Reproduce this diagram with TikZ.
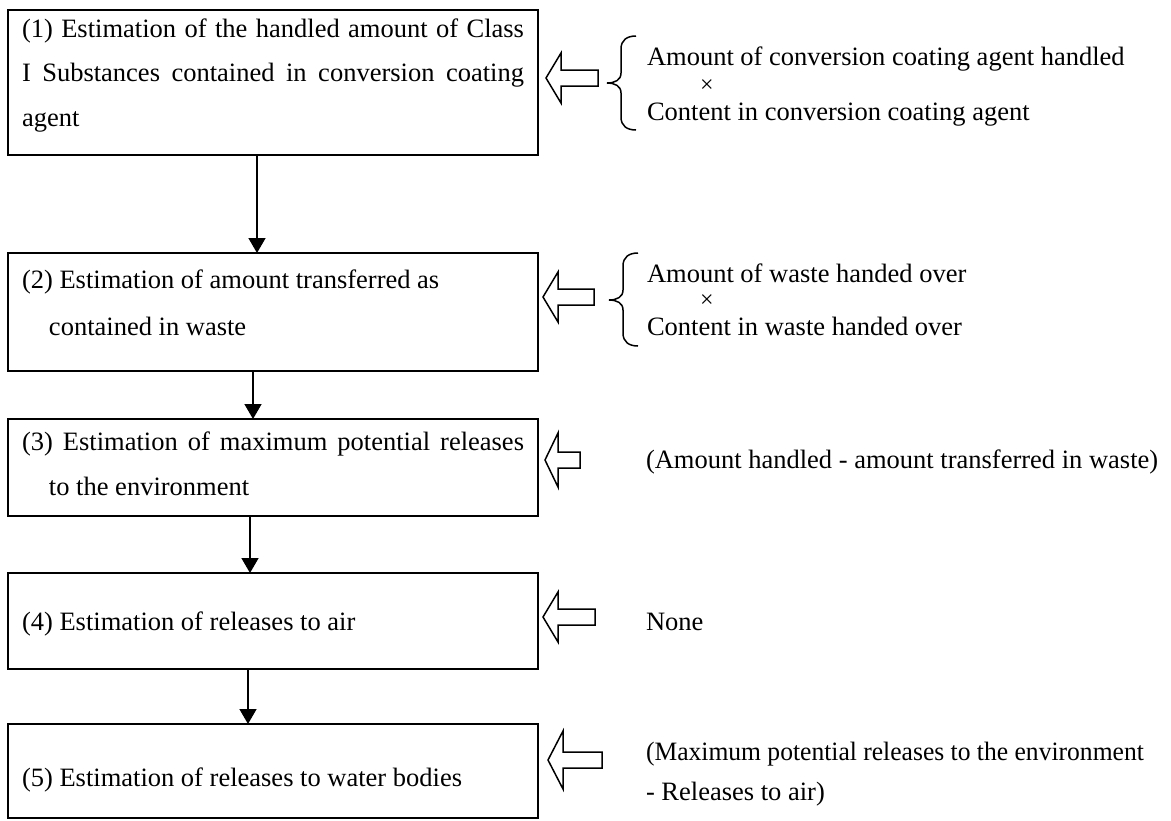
\documentclass[tikz,border=0pt]{standalone}
\usepackage{fontspec}
\setmainfont{Liberation Serif}
\usepackage{graphicx}
\usetikzlibrary{arrows.meta}

\tikzset{
  every node/.style={inner sep=0pt, outer sep=0pt},
  txt/.style={font=\fontsize{26.5pt}{46pt}\selectfont},
  stepbox/.style={txt, draw, line width=2pt, rectangle, anchor=north west,
    minimum width=530pt, align=left},
  flow/.style={line width=1.5pt, -{Triangle[length=15pt,width=17pt]}},
  hollow/.style={draw, line width=1.5pt, line join=miter},
  bracepen/.style={line width=1.5pt},
  side/.style={txt, anchor=base west},
  times/.style={font=\fontsize{24pt}{24pt}\selectfont},
  pics/inarrow/.style args={#1/#2/#3/#4}{code={
    \draw[hollow] (0,0) -- (#1,-#2) -- (#1,-#3) -- (#4,-#3) -- (#4,#3)
      -- (#1,#3) -- (#1,#2) -- cycle;
  }},
  pics/curly/.style args={#1/#2}{code={
    \draw[bracepen] (29,-#1) .. controls (20,-#1) and (14,-#1+4) .. (14,-#1+13)
      -- (14,-10) .. controls (14,-3) and (8,0) .. (0,0)
      .. controls (8,0) and (14,3) .. (14,10)
      -- (14,#2-13) .. controls (14,#2-4) and (20,#2) .. (29,#2);
  }},
}
% box text: height of the box, height of the first line, line pitch
\newcommand{\steptext}[4]{\parbox[c][#1][t]{502pt}{\setlength{\baselineskip}{#3}%
  \rule{0pt}{#2}#4}}

\begin{document}
\begin{tikzpicture}[x=1pt, y=-1pt]
\path[fill=white] (0,0) rectangle (1171,820);
\useasboundingbox (0,0) rectangle (1171,820);

% the five estimation steps
\node[stepbox] (b1) at (8,10) {\steptext{145pt}{27pt}{44.5pt}{%
  \makebox[\linewidth][s]{(1) Estimation of the handled amount of Class}\\
  \makebox[\linewidth][s]{I Substances contained in conversion coating}\\
  agent}};
\node[stepbox] (b2) at (8,253) {\steptext{118pt}{35pt}{47.5pt}{%
  (2) Estimation of amount transferred as\\
  \hspace*{27pt}contained in waste}};
\node[stepbox] (b3) at (8,419) {\steptext{97pt}{31pt}{45pt}{%
  \makebox[\linewidth][s]{(3) Estimation of maximum potential releases}\\
  \hspace*{27pt}to the environment}};
\node[stepbox] (b4) at (8,573) {\steptext{96pt}{57pt}{46pt}{%
  (4) Estimation of releases to air}};
\node[stepbox] (b5) at (8,724) {\steptext{94pt}{62pt}{46pt}{%
  (5) Estimation of releases to water bodies}};

% flow between the steps
\draw[flow] ([xshift=-16pt]b1.south) -- ([xshift=-16pt]b2.north);
\draw[flow] ([xshift=-20pt]b2.south) -- ([xshift=-20pt]b3.north);
\draw[flow] ([xshift=-23pt]b3.south) -- ([xshift=-23pt]b4.north);
\draw[flow] ([xshift=-25pt]b4.south) -- ([xshift=-25pt]b5.north);

% inputs feeding each step
\pic (in1) at (546,78) {inarrow=15/25/8/52};
\pic (in2) at (543,297) {inarrow=15/25/8/51};
\pic (in3) at (545,460) {inarrow=13/27/8/35};
\pic (in4) at (543,617) {inarrow=15/25/8/52};
\pic (in5) at (548,760) {inarrow=15/29/8/54};

% step 1 input
\pic (br1) at (607,83) {curly=47/47};
\node[side] (a1) at (647,65) {Amount of conversion coating agent handled};
\node[times] (x1) at (707,86) {×};
\node[side] (c1) at (647,120) {Content in conversion coating agent};

% step 2 input
\pic (br2) at (609,300) {curly=47/46};
\node[side] (a2) at (647,282) {Amount of waste handed over};
\node[times] (x2) at (707,301) {×};
\node[side] (c2) at (647,335) {Content in waste handed over};

% steps 3 to 5 inputs
\node[side] (d3) at (646,468) {(Amount handled - amount transferred in waste)};
\node[side] (d4) at (646,630) {None};
\node[side] (d5) at (646,760) {\scalebox{0.965}[1]{(Maximum potential releases to the environment}};
\node[side] (e5) at (646,800) {- Releases to air)};
\end{tikzpicture}
\end{document}
